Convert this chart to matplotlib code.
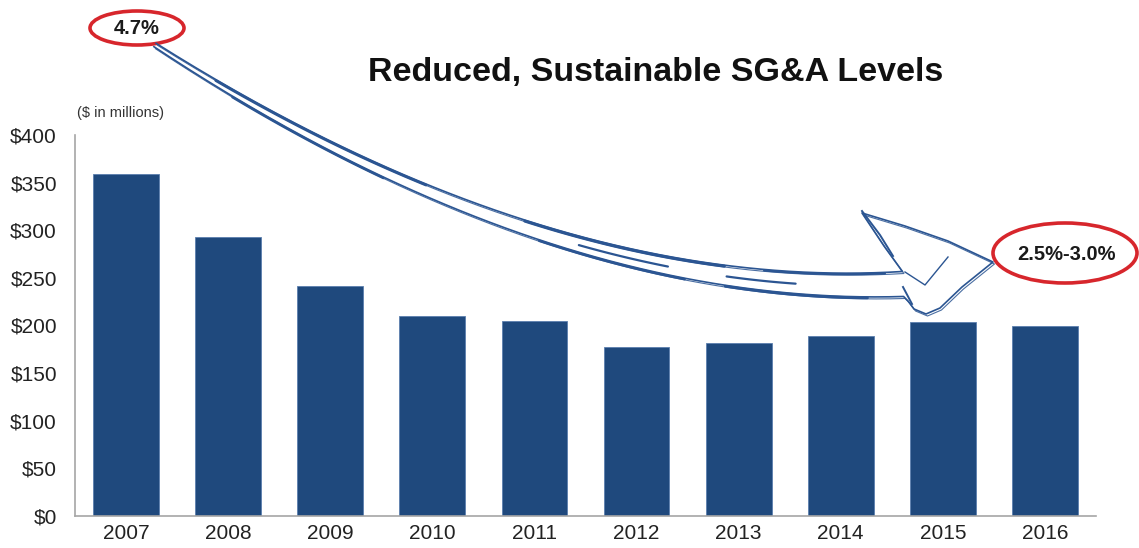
import numpy as np
import matplotlib.pyplot as plt
from matplotlib.patches import Ellipse

plt.rcParams['font.family'] = ['Liberation Sans', 'DejaVu Sans']

# SG&A spend by year ($ in millions)
years = ['2007', '2008', '2009', '2010', '2011', '2012', '2013', '2014', '2015', '2016']
sga = [359, 293, 241, 210, 205, 177, 182, 189, 204, 200]

y_ticks = [0, 50, 100, 150, 200, 250, 300, 350, 400]
y_labels = ['$' + str(v) for v in y_ticks]

start_pct = '4.7%'
target_pct = '2.5%-3.0%'

W, H = 1139, 548
BAR = '#1F497D'
INK = '#2B5592'
RED = '#D7262C'

fig = plt.figure(figsize=(W / 100, H / 100), dpi=100)
ax = fig.add_axes([75 / W, 1 - 516 / H, (1096 - 75) / W, (516 - 135) / H])

x = np.arange(len(years))
ax.bar(x, sga, width=0.645, color=BAR, edgecolor='#5b7fae', linewidth=0.6, zorder=2)
ax.set_xlim(-0.5, len(years) - 0.5)
ax.set_ylim(0, 400)
ax.set_xticks(x)
ax.set_xticklabels(years, fontsize=15, color='#222222')
ax.set_yticks(y_ticks)
ax.set_yticklabels(y_labels, fontsize=15, color='#222222')
ax.tick_params(axis='y', length=0, pad=13)
ax.tick_params(axis='x', length=0, pad=6)
for side in ['top', 'right']:
    ax.spines[side].set_visible(False)
for side in ['left', 'bottom']:
    ax.spines[side].set_color('#a6a6a6')
    ax.spines[side].set_linewidth(1.2)

# overlay in pixel coordinates for the title, notes and the sketched arrow
ov = fig.add_axes([0, 0, 1, 1], facecolor='none')
ov.set_xlim(0, W)
ov.set_ylim(H, 0)
ov.axis('off')

ov.text(656, 73, 'Reduced, Sustainable SG&A Levels', fontsize=24.5, fontweight='bold',
        ha='center', va='center', color='#111111')
ov.text(77, 113, '($ in millions)', fontsize=10.5, ha='left', va='center', color='#333333')

ov.add_patch(Ellipse((137, 28), 94, 34, fill=False, edgecolor=RED, linewidth=2.6))
ov.text(137, 29, start_pct, fontsize=14.5, fontweight='bold', ha='center', va='center',
        color='#1a1a1a')
ov.add_patch(Ellipse((1065, 253), 144, 60, fill=False, edgecolor=RED, linewidth=2.6))
ov.text(1067, 255, target_pct, fontsize=14.5, fontweight='bold', ha='center', va='center',
        color='#1a1a1a')

# curved shaft: quadratic bezier centre line with tapering width
p0 = np.array([155.0, 45.0])
p1 = np.array([550.0, 300.0])
p2 = np.array([903.0, 284.0])
t = np.linspace(0, 1, 200)[:, None]
centre = (1 - t) ** 2 * p0 + 2 * (1 - t) * t * p1 + t ** 2 * p2
deriv = 2 * (1 - t) * (p1 - p0) + 2 * t * (p2 - p1)
normal = np.column_stack([deriv[:, 1], -deriv[:, 0]])
normal /= np.linalg.norm(normal, axis=1)[:, None]
half = 2 + 10.5 * t
top = centre + normal * half
bottom = centre - normal * half
if top[-1, 1] > bottom[-1, 1]:
    top, bottom = bottom, top

# arrow head outline
head_upper = np.array([[top[-1, 0], top[-1, 1]], [884, 246], [862, 213],
                       [905, 226], [948, 241], [993, 262]])
head_lower = np.array([[993, 262], [962, 287], [940, 308], [926, 314],
                       [914, 309], [908, 301], [bottom[-1, 0], bottom[-1, 1]]])
outline = np.vstack([top, head_upper, head_lower, bottom[::-1]])

ov.plot(outline[:, 0], outline[:, 1], color=INK, linewidth=1.2, solid_joinstyle='round')
ov.plot(outline[:, 0] + 1.5, outline[:, 1] + 2.0, color=INK, linewidth=0.8, alpha=0.85)

# heavier overdrawn strokes along the shaft
strokes = [(top, 15, 70, 2.0), (top, 95, 150, 2.2), (top, 160, 195, 1.6),
           (bottom, 20, 60, 1.8), (bottom, 100, 140, 1.8), (bottom, 150, 190, 2.0),
           (centre, 110, 135, 1.6), (centre, 150, 170, 1.6)]
for edge, a, b, lw in strokes:
    seg = edge[a:b]
    ov.plot(seg[:, 0], seg[:, 1] + 1.0, color=INK, linewidth=lw, solid_capstyle='round')

ov.plot([862, 880, 893], [211, 235, 256], color=INK, linewidth=1.4)
ov.plot([905, 925, 948], [272, 285, 257], color=INK, linewidth=1.0)
ov.plot([903, 912], [287, 304], color=INK, linewidth=1.4)

fig.savefig('out.png', dpi=100)
